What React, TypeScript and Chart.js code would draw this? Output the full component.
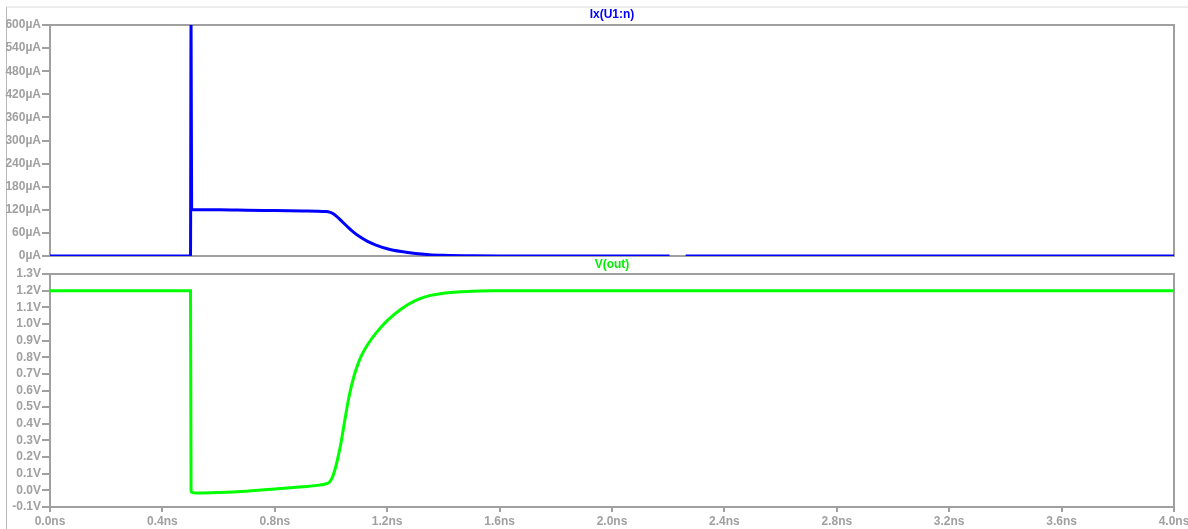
import React, { useEffect, useRef } from "react";
import { Chart, registerables } from "chart.js";

Chart.register(...registerables);

// ---- Data (time in ns) ----
const ixTime = [0, 0.5, 0.502, 0.504, 0.6, 0.7, 0.8, 0.9, 0.95, 0.98, 0.995, 1.005, 1.02, 1.04, 1.06, 1.08, 1.1, 1.13, 1.16, 1.2, 1.25, 1.3, 1.35, 1.4, 1.5, 1.6, 2.205, 2.235, 2.262, 4.0];
const ixValues = [0, 0, 600, 121, 120, 119, 118, 117, 116.5, 115.5, 114, 111, 103, 89, 75, 62, 51, 38, 28.5, 19, 11.5, 6.5, 3.5, 2, 0.5, 0, 0, null, 0, 0];

const voutTime = [0, 0.5, 0.502, 0.505, 0.515, 0.53, 0.6, 0.7, 0.8, 0.9, 0.95, 0.98, 0.995, 1.005, 1.015, 1.025, 1.035, 1.05, 1.065, 1.08, 1.095, 1.11, 1.13, 1.16, 1.2, 1.25, 1.3, 1.35, 1.4, 1.5, 1.6, 1.7, 4.0];
const voutValues = [1.2, 1.2, 0.0, -0.012, -0.016, -0.016, -0.013, -0.005, 0.008, 0.022, 0.03, 0.038, 0.05, 0.08, 0.13, 0.2, 0.28, 0.43, 0.57, 0.675, 0.755, 0.815, 0.875, 0.945, 1.02, 1.09, 1.14, 1.17, 1.185, 1.196, 1.199, 1.2, 1.2];

const timeTicks = [0, 0.4, 0.8, 1.2, 1.6, 2.0, 2.4, 2.8, 3.2, 3.6, 4.0];
const ixTicks = [0, 60, 120, 180, 240, 300, 360, 420, 480, 540, 600];
const voutTicks = [-0.1, 0.0, 0.1, 0.2, 0.3, 0.4, 0.5, 0.6, 0.7, 0.8, 0.9, 1.0, 1.1, 1.2, 1.3];

const ixTitle = "Ix(U1:n)";
const voutTitle = "V(out)";

const W = 1188;
const H = 529;
const GRAY = "#a0a0a0";
const FONT = { family: "'Liberation Sans', Arial, sans-serif", size: 12, weight: "bold" as const };

const boxPlugin = {
  id: "boxPlugin",
  beforeDatasetsDraw(chart: any) {
    const { ctx, chartArea: a } = chart;
    ctx.save();
    ctx.strokeStyle = GRAY;
    ctx.lineWidth = 2;
    ctx.strokeRect(a.left, a.top, a.right - a.left, a.bottom - a.top);
    ctx.restore();
  },
};

const titlePlugin = {
  id: "panelTitle",
  afterDraw(chart: any, _args: any, opts: any) {
    const { ctx, chartArea: a } = chart;
    ctx.save();
    ctx.font = `bold 12px ${FONT.family}`;
    ctx.fillStyle = opts.color;
    ctx.textAlign = "center";
    ctx.textBaseline = "middle";
    ctx.fillText(opts.text, (a.left + a.right) / 2, a.top + opts.dy);
    ctx.restore();
  },
};

function toPoints(xs: number[], ys: (number | null)[]) {
  return xs.map((x, i) => ({ x, y: ys[i] }));
}

function fixedTicks(arr: number[]) {
  return (scale: any) => {
    scale.ticks = arr.map((v) => ({ value: v }));
  };
}

export default function App() {
  const topRef = useRef<HTMLCanvasElement>(null);
  const botRef = useRef<HTMLCanvasElement>(null);

  useEffect(() => {
    const top = new Chart(topRef.current!, {
      type: "line",
      data: {
        datasets: [
          {
            data: toPoints(ixTime, ixValues) as any,
            borderColor: "#0000ff",
            borderWidth: 3,
            pointRadius: 0,
            cubicInterpolationMode: "monotone",
            spanGaps: false,
          },
        ],
      },
      options: {
        responsive: false,
        animation: false,
        events: [],
        layout: { padding: { left: 0, top: 25, right: W - 1174, bottom: H - 256 } },
        plugins: {
          legend: { display: false },
          tooltip: { enabled: false },
          panelTitle: { text: ixTitle, color: "#0000ff", dy: -10 },
        } as any,
        scales: {
          x: { type: "linear", min: 0, max: 4, display: false },
          y: {
            type: "linear",
            min: 0,
            max: 600,
            afterBuildTicks: fixedTicks(ixTicks),
            afterFit: (s: any) => { s.width = 50; s.paddingTop = 0; s.paddingBottom = 0; },
            grid: { drawOnChartArea: false, drawTicks: true, tickLength: 8, color: GRAY, lineWidth: 2 },
            border: { display: true, color: GRAY, width: 2 },
            ticks: {
              color: GRAY,
              font: FONT,
              padding: 1,
              callback: (v: any) => `${Math.round(Number(v))}µA`,
            },
          },
        },
      },
      plugins: [boxPlugin, titlePlugin],
    });

    const bot = new Chart(botRef.current!, {
      type: "line",
      data: {
        datasets: [
          {
            data: toPoints(voutTime, voutValues) as any,
            borderColor: "#00ff00",
            borderWidth: 3,
            pointRadius: 0,
            cubicInterpolationMode: "monotone",
          },
        ],
      },
      options: {
        responsive: false,
        animation: false,
        events: [],
        layout: { padding: { left: 0, top: 274, right: W - 1174, bottom: 0 } },
        plugins: {
          legend: { display: false },
          tooltip: { enabled: false },
          panelTitle: { text: voutTitle, color: "#00ee00", dy: -9 },
        } as any,
        scales: {
          x: {
            type: "linear",
            min: 0,
            max: 4,
            afterBuildTicks: fixedTicks(timeTicks),
            afterFit: (s: any) => { s.height = H - 507; s.paddingLeft = 0; s.paddingRight = 0; },
            grid: { drawOnChartArea: false, drawTicks: true, tickLength: 5, color: GRAY, lineWidth: 2 },
            border: { display: true, color: GRAY, width: 2 },
            ticks: {
              color: GRAY,
              font: FONT,
              padding: 2,
              maxRotation: 0,
              autoSkip: false,
              callback: (v: any) => `${Number(v).toFixed(1)}ns`,
            },
          },
          y: {
            type: "linear",
            min: -0.1,
            max: 1.3,
            afterBuildTicks: fixedTicks(voutTicks),
            afterFit: (s: any) => { s.width = 50; s.paddingTop = 0; s.paddingBottom = 0; },
            grid: { drawOnChartArea: false, drawTicks: true, tickLength: 8, color: GRAY, lineWidth: 2 },
            border: { display: true, color: GRAY, width: 2 },
            ticks: {
              color: GRAY,
              font: FONT,
              padding: 1,
              autoSkip: false,
              callback: (v: any) => `${(Math.round(Number(v) * 10) / 10).toFixed(1)}V`,
            },
          },
        },
      },
      plugins: [boxPlugin, titlePlugin],
    });

    return () => {
      top.destroy();
      bot.destroy();
    };
  }, []);

  return (
    <div style={{ position: "fixed", left: 0, top: 0, width: W, height: H, background: "#fff" }}>
      <div
        style={{
          position: "absolute",
          left: 6,
          top: 6,
          right: 0,
          bottom: 0,
          borderTop: "2px solid #ececec",
          borderLeft: "1px solid #b8b8b8",
        }}
      />
      <canvas ref={topRef} width={W} height={H} style={{ position: "absolute", left: 0, top: 0 }} />
      <canvas ref={botRef} width={W} height={H} style={{ position: "absolute", left: 0, top: 0 }} />
    </div>
  );
}
